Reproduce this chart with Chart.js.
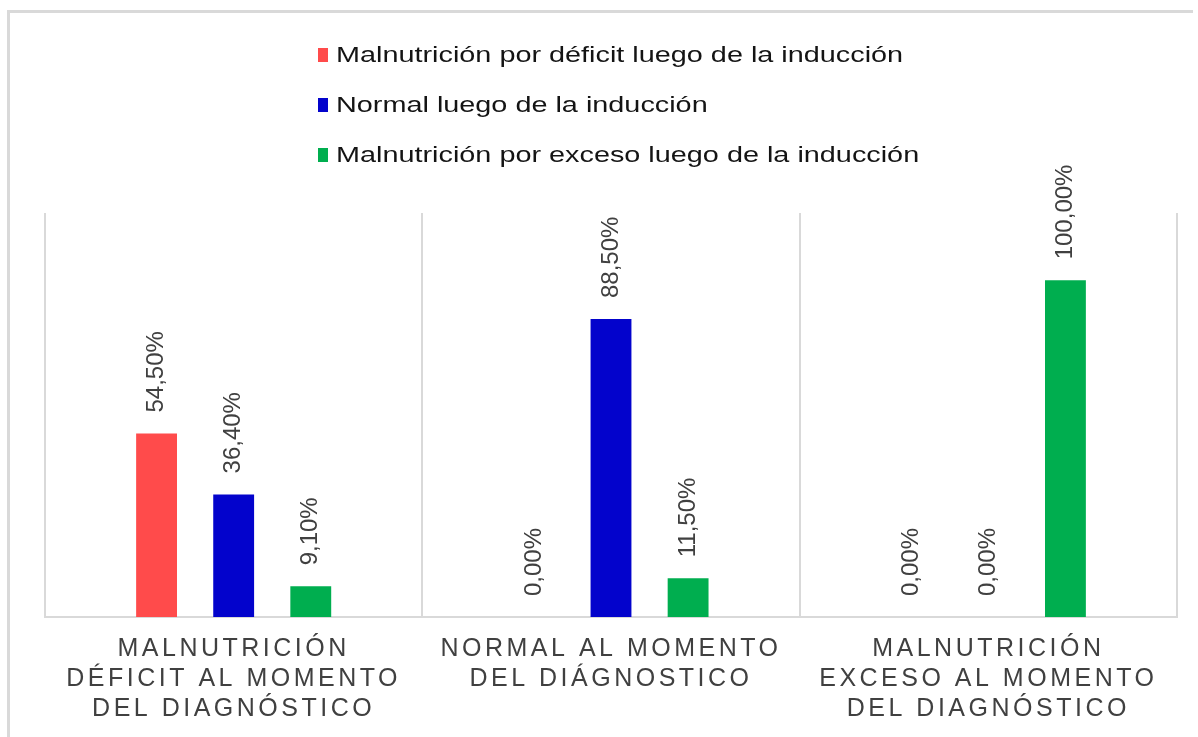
<!DOCTYPE html>
<html lang="es">
<head>
<meta charset="utf-8">
<title>Estado nutricional</title>
<script src="https://cdn.jsdelivr.net/npm/chart.js@4.4.1/dist/chart.umd.min.js"></script>
<style>
  html, body { margin: 0; padding: 0; background: #fff; overflow: hidden; width: 1198px; height: 737px; }
  .frame-left { position: absolute; left: 7px; top: 10px; width: 3px; height: 727px; background: #d9d9d9; }
  .frame-top { position: absolute; left: 7px; top: 10px; width: 1186px; height: 3px; background: #d9d9d9; }
  .chart-box { position: absolute; left: 0; top: 0; width: 1198px; height: 737px; }
  .legend {
    position: absolute; left: 318px; top: 0;
    font-family: "Liberation Sans", Arial, sans-serif; font-size: 22px; color: #141414;
  }
  .legend-item {
    position: absolute; left: 0; height: 20px; white-space: nowrap;
    display: flex; align-items: center;
  }
  .legend-box { width: 10px; height: 14px; margin-right: 8px; flex: none; }
  .legend-text { display: inline-block; transform: scaleX(1.31); transform-origin: left center; }
</style>
</head>
<body>
<div class="frame-left"></div>
<div class="frame-top"></div>
<div class="chart-box"><canvas id="barChart"></canvas></div>
<div class="legend" id="legend"></div>
<script>
// Categorías (eje X) y valores de cada serie, en %
const categories = [
    ['MALNUTRICIÓN', 'DÉFICIT AL MOMENTO', 'DEL DIAGNÓSTICO'],
    ['NORMAL AL MOMENTO', 'DEL DIÁGNOSTICO'],
    ['MALNUTRICIÓN', 'EXCESO AL MOMENTO', 'DEL DIAGNÓSTICO']
];
const seriesNames = [
    'Malnutrición por déficit luego de la inducción',
    'Normal luego de la inducción',
    'Malnutrición por exceso luego de la inducción'
];
const deficitValues = [54.5, 0, 0];
const normalValues = [36.4, 88.5, 0];
const excesoValues = [9.1, 11.5, 100];

const fontFamily = "'Liberation Sans', Arial, sans-serif";

// Letter spacing for the category labels (drawn before the bars)
const tickSpacing = {
    id: 'tickSpacing',
    beforeDraw(chart) { chart.ctx.letterSpacing = '3.5px'; },
    beforeDatasetsDraw(chart) { chart.ctx.letterSpacing = '0px'; }
};

// Rotated value labels above each bar
const valueLabels = {
    id: 'valueLabels',
    afterDatasetsDraw(chart) {
        const ctx = chart.ctx;
        ctx.save();
        ctx.letterSpacing = '0px';
        ctx.font = '24px ' + fontFamily;
        ctx.fillStyle = '#404040';
        ctx.textAlign = 'left';
        ctx.textBaseline = 'middle';
        chart.data.datasets.forEach((ds, i) => {
            chart.getDatasetMeta(i).data.forEach((bar, j) => {
                const txt = ds.data[j].toFixed(2).replace('.', ',') + '%';
                ctx.save();
                ctx.translate(bar.x, bar.y - 21);
                ctx.rotate(-Math.PI / 2);
                ctx.fillText(txt, 0, 0);
                ctx.restore();
            });
        });
        ctx.restore();
    }
};

const barChart = new Chart(document.getElementById('barChart'), {
    type: 'bar',
    data: {
        labels: categories,
        datasets: [
            { label: seriesNames[0], data: deficitValues, backgroundColor: '#ff4b4b' },
            { label: seriesNames[1], data: normalValues, backgroundColor: '#0303cc' },
            { label: seriesNames[2], data: excesoValues, backgroundColor: '#00ae4f' }
        ]
    },
    options: {
        responsive: true,
        maintainAspectRatio: false,
        animation: false,
        categoryPercentage: 0.613,
        barPercentage: 0.53,
        layout: { padding: { left: 45, right: 21, top: 213, bottom: 0 } },
        plugins: {
            legend: { display: false },
            tooltip: { enabled: false }
        },
        scales: {
            x: {
                grid: {
                    offset: true,
                    color: '#d9d9d9',
                    lineWidth: 2,
                    drawTicks: true,
                    tickLength: 4,
                    tickColor: 'rgba(0,0,0,0)'
                },
                border: { color: '#d9d9d9', width: 2 },
                ticks: {
                    color: '#404040',
                    padding: 13,
                    maxRotation: 0,
                    autoSkip: false,
                    font: { family: fontFamily, size: 25, lineHeight: 1.2 }
                }
            },
            y: {
                display: false,
                min: 0,
                max: 120
            }
        }
    },
    plugins: [tickSpacing, valueLabels]
});

// HTML legend, one item per row
const legendEl = document.getElementById('legend');
const items = Chart.defaults.plugins.legend.labels.generateLabels(barChart);
items.forEach((item, i) => {
    const row = document.createElement('div');
    row.className = 'legend-item';
    row.style.top = (45 + i * 50) + 'px';
    const box = document.createElement('span');
    box.className = 'legend-box';
    box.style.background = item.fillStyle;
    const text = document.createElement('span');
    text.className = 'legend-text';
    text.textContent = item.text;
    row.appendChild(box);
    row.appendChild(text);
    legendEl.appendChild(row);
});
</script>
</body>
</html>
